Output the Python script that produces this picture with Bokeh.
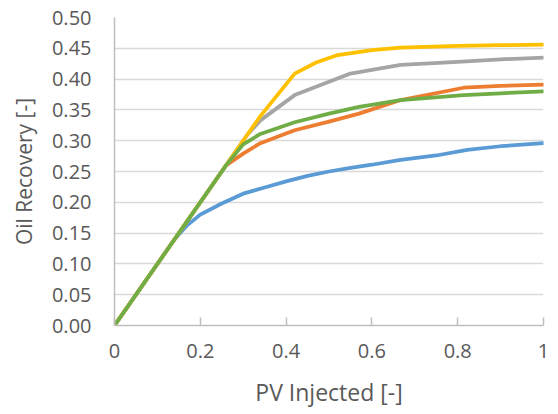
from bokeh.plotting import figure
from bokeh.models import Range1d, FixedTicker, PrintfTickFormatter
from bokeh.embed import file_html
from bokeh.resources import INLINE

# Data
blue_x = [0, 0.14, 0.17, 0.2, 0.25, 0.3, 0.35, 0.4, 0.45, 0.5, 0.55, 0.6, 0.667, 0.75, 0.822, 0.9, 1.0]
blue_y = [0, 0.14, 0.163, 0.18, 0.198, 0.214, 0.224, 0.234, 0.243, 0.25, 0.256, 0.261, 0.269, 0.276, 0.285, 0.291, 0.296]

orange_x = [0, 0.26, 0.3, 0.34, 0.42, 0.5, 0.57, 0.667, 0.814, 0.9, 1.0]
orange_y = [0, 0.26, 0.279, 0.296, 0.317, 0.331, 0.344, 0.366, 0.386, 0.389, 0.391]

gray_x = [0, 0.31, 0.34, 0.42, 0.55, 0.667, 0.8, 0.9, 1.0]
gray_y = [0, 0.31, 0.333, 0.374, 0.409, 0.423, 0.428, 0.432, 0.435]

yellow_x = [0, 0.34, 0.42, 0.47, 0.52, 0.6, 0.667, 0.8, 0.9, 1.0]
yellow_y = [0, 0.34, 0.409, 0.427, 0.439, 0.447, 0.451, 0.454, 0.455, 0.456]

green_x = [0, 0.26, 0.3, 0.34, 0.42, 0.5, 0.57, 0.667, 0.814, 0.9, 1.0]
green_y = [0, 0.26, 0.294, 0.311, 0.33, 0.344, 0.355, 0.366, 0.374, 0.377, 0.38]

x_ticks = [0, 0.2, 0.4, 0.6, 0.8, 1]
x_tick_labels = ["0", "0.2", "0.4", "0.6", "0.8", "1"]
y_ticks = [0, 0.05, 0.1, 0.15, 0.2, 0.25, 0.3, 0.35, 0.4, 0.45, 0.5]

x_title = "PV Injected [-]"
y_title = "Oil Recovery [-]"

FONT = "Open Sans"
TXT = "#595959"

p = figure(width=558, height=414, output_backend="svg", toolbar_location=None,
           x_range=Range1d(0, 1), y_range=Range1d(0, 0.5),
           min_border_left=114, min_border_right=15, min_border_top=17, min_border_bottom=89)
p.outline_line_color = None
p.background_fill_color = "white"
p.border_fill_color = "white"

series = [
    (blue_x, blue_y, "#5B9BD5"),
    (orange_x, orange_y, "#ED7D31"),
    (gray_x, gray_y, "#A5A5A5"),
    (yellow_x, yellow_y, "#FFC000"),
    (green_x, green_y, "#70AD47"),
]
for xs, ys, c in series:
    p.line(xs, ys, line_color=c, line_width=3.75, line_join="round", line_cap="round")

# grid
p.xgrid.grid_line_color = None
p.ygrid.grid_line_color = "#D9D9D9"
p.ygrid.grid_line_width = 1.5
p.ygrid.ticker = FixedTicker(ticks=y_ticks)

# x axis
xa = p.xaxis[0]
xa.ticker = FixedTicker(ticks=x_ticks)
xa.major_label_overrides = {t: l for t, l in zip(x_ticks, x_tick_labels)}
xa.axis_line_color = "#BFBFBF"
xa.axis_line_width = 1.5
xa.major_tick_line_color = "#BFBFBF"
xa.major_tick_line_width = 1.5
xa.major_tick_in = 8
xa.major_tick_out = 0
xa.minor_tick_line_color = None
xa.major_label_standoff = 18
xa.major_label_text_font = FONT
xa.major_label_text_font_size = "20px"
xa.major_label_text_color = TXT
xa.axis_label = x_title
xa.axis_label_text_font = FONT
xa.axis_label_text_font_size = "23px"
xa.axis_label_text_font_style = "normal"
xa.axis_label_text_color = TXT
xa.axis_label_standoff = 15

# y axis
ya = p.yaxis[0]
ya.ticker = FixedTicker(ticks=y_ticks)
ya.formatter = PrintfTickFormatter(format="%.2f")
ya.axis_line_color = "#BFBFBF"
ya.axis_line_width = 1.5
ya.major_tick_line_color = None
ya.major_tick_in = 0
ya.major_tick_out = 0
ya.minor_tick_line_color = None
ya.major_label_standoff = 23
ya.major_label_text_font = FONT
ya.major_label_text_font_size = "20px"
ya.major_label_text_color = TXT
ya.axis_label = y_title
ya.axis_label_text_font = FONT
ya.axis_label_text_font_size = "21px"
ya.axis_label_text_font_style = "normal"
ya.axis_label_text_color = TXT
ya.axis_label_standoff = 11

open("out.html", "w").write(file_html(p, INLINE))
